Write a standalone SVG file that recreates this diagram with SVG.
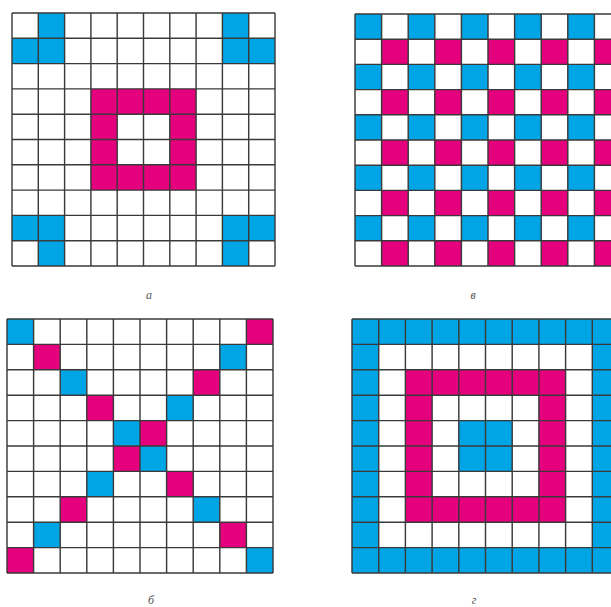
<svg xmlns="http://www.w3.org/2000/svg" xmlns:xlink="http://www.w3.org/1999/xlink" width="611" height="607" viewBox="0 0 611 607">
<style>
.b{fill:#00a5e6}
.m{fill:#e5007d}
.g{fill:none;stroke:#3a3a3a;stroke-width:0.054}
.lbl{font-family:"Liberation Serif","Times New Roman",serif;font-style:italic;font-size:12px;fill:#555;text-anchor:middle}
</style>
<defs>
<path id="lines" d="M0 0H10M0 1H10M0 2H10M0 3H10M0 4H10M0 5H10M0 6H10M0 7H10M0 8H10M0 9H10M0 10H10M0 0V10M1 0V10M2 0V10M3 0V10M4 0V10M5 0V10M6 0V10M7 0V10M8 0V10M9 0V10M10 0V10"/>
<g id="rowB"><rect class="b" x="0" y="0" width="1" height="1"/><rect class="b" x="2" y="0" width="1" height="1"/><rect class="b" x="4" y="0" width="1" height="1"/><rect class="b" x="6" y="0" width="1" height="1"/><rect class="b" x="8" y="0" width="1" height="1"/></g>
<g id="rowM"><rect class="m" x="1" y="0" width="1" height="1"/><rect class="m" x="3" y="0" width="1" height="1"/><rect class="m" x="5" y="0" width="1" height="1"/><rect class="m" x="7" y="0" width="1" height="1"/><rect class="m" x="9" y="0" width="1" height="1"/></g>
</defs>

<g id="grid-a" transform="translate(12,13) scale(26.3,25.3)">
<rect x="0" y="0" width="10" height="10" fill="#fff"/>
<rect class="b" x="1" y="0" width="1" height="2"/><rect class="b" x="0" y="1" width="1" height="1"/>
<rect class="b" x="8" y="0" width="1" height="2"/><rect class="b" x="9" y="1" width="1" height="1"/>
<rect class="b" x="0" y="8" width="2" height="1"/><rect class="b" x="1" y="9" width="1" height="1"/>
<rect class="b" x="8" y="8" width="2" height="1"/><rect class="b" x="8" y="9" width="1" height="1"/>
<rect class="m" x="3" y="3" width="4" height="1"/><rect class="m" x="3" y="6" width="4" height="1"/>
<rect class="m" x="3" y="4" width="1" height="2"/><rect class="m" x="6" y="4" width="1" height="2"/>
<use xlink:href="#lines" class="g"/>
</g>

<g id="grid-v" transform="translate(355,14) scale(26.6,25.2)">
<rect x="0" y="0" width="10" height="10" fill="#fff"/>
<use xlink:href="#rowB" y="0"/><use xlink:href="#rowM" y="1"/>
<use xlink:href="#rowB" y="2"/><use xlink:href="#rowM" y="3"/>
<use xlink:href="#rowB" y="4"/><use xlink:href="#rowM" y="5"/>
<use xlink:href="#rowB" y="6"/><use xlink:href="#rowM" y="7"/>
<use xlink:href="#rowB" y="8"/><use xlink:href="#rowM" y="9"/>
<use xlink:href="#lines" class="g"/>
</g>

<g id="grid-b" transform="translate(7,319) scale(26.6,25.4)">
<rect x="0" y="0" width="10" height="10" fill="#fff"/>
<rect class="b" x="0" y="0" width="1" height="1"/><rect class="m" x="9" y="0" width="1" height="1"/>
<rect class="m" x="1" y="1" width="1" height="1"/><rect class="b" x="8" y="1" width="1" height="1"/>
<rect class="b" x="2" y="2" width="1" height="1"/><rect class="m" x="7" y="2" width="1" height="1"/>
<rect class="m" x="3" y="3" width="1" height="1"/><rect class="b" x="6" y="3" width="1" height="1"/>
<rect class="b" x="4" y="4" width="1" height="1"/><rect class="m" x="5" y="4" width="1" height="1"/>
<rect class="m" x="4" y="5" width="1" height="1"/><rect class="b" x="5" y="5" width="1" height="1"/>
<rect class="b" x="3" y="6" width="1" height="1"/><rect class="m" x="6" y="6" width="1" height="1"/>
<rect class="m" x="2" y="7" width="1" height="1"/><rect class="b" x="7" y="7" width="1" height="1"/>
<rect class="b" x="1" y="8" width="1" height="1"/><rect class="m" x="8" y="8" width="1" height="1"/>
<rect class="m" x="0" y="9" width="1" height="1"/><rect class="b" x="9" y="9" width="1" height="1"/>
<use xlink:href="#lines" class="g"/>
</g>

<g id="grid-g" transform="translate(352,319) scale(26.7,25.4)">
<rect x="0" y="0" width="10" height="10" fill="#fff"/>
<rect class="b" x="0" y="0" width="10" height="1"/><rect class="b" x="0" y="9" width="10" height="1"/>
<rect class="b" x="0" y="1" width="1" height="8"/><rect class="b" x="9" y="1" width="1" height="8"/>
<rect class="m" x="2" y="2" width="6" height="1"/><rect class="m" x="2" y="7" width="6" height="1"/>
<rect class="m" x="2" y="3" width="1" height="4"/><rect class="m" x="7" y="3" width="1" height="4"/>
<rect class="b" x="4" y="4" width="2" height="2"/>
<use xlink:href="#lines" class="g"/>
</g>

<g id="labels">
<text class="lbl" x="149" y="299">а</text>
<text class="lbl" x="473" y="299">в</text>
<text class="lbl" x="151" y="604">б</text>
<text class="lbl" x="474" y="604">г</text>
</g>
</svg>
